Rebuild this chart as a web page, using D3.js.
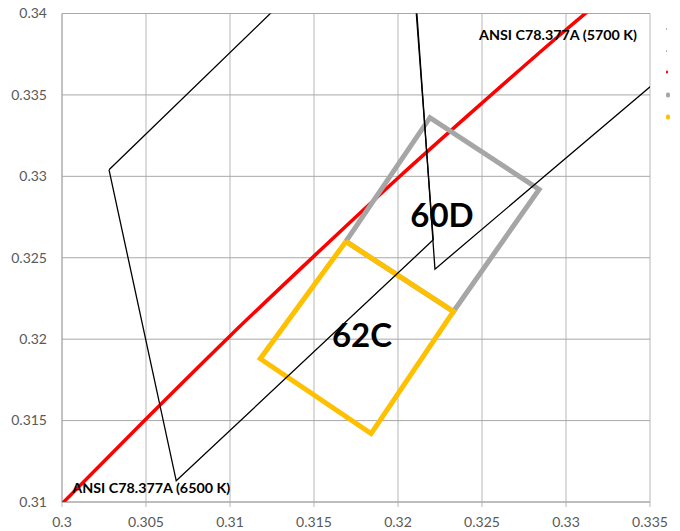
<!DOCTYPE html>
<html>
<head>
<meta charset="utf-8">
<script src="https://cdn.jsdelivr.net/npm/d3@7"></script>
<style>
  html, body { margin: 0; padding: 0; background: #ffffff; }
  svg { display: block; }
</style>
</head>
<body>
<svg id="chart" width="680" height="531"></svg>
<script>
// Axis ticks (CIE 1931 x, y)
const xTicks = [0.3, 0.305, 0.31, 0.315, 0.32, 0.325, 0.33, 0.335];
const yTicks = [0.31, 0.315, 0.32, 0.325, 0.33, 0.335, 0.34];

// ANSI C78.377A quadrangles (x, y corners)
const quad6500 = [[0.3028, 0.3304], [0.3068, 0.3113], [0.3221, 0.3261], [0.3205, 0.3481]];
const quad5700 = [[0.3207, 0.3462], [0.3222, 0.3243], [0.3366, 0.3369], [0.3376, 0.3616]];

// Blackbody locus
const locusX = [0.300, 0.305, 0.310, 0.315, 0.320, 0.325, 0.330, 0.335];
const locusY = [0.3099, 0.3151, 0.3202, 0.3251, 0.3299, 0.3345, 0.3390, 0.3433];

// Bins 60D and 62C
const bin60D = [[0.3169, 0.3260], [0.3219, 0.3336], [0.3284, 0.3292], [0.3233, 0.3217]];
const bin62C = [[0.3169, 0.3260], [0.3233, 0.3217], [0.3184, 0.3142], [0.3118, 0.3188]];

const binLabels = [
  { text: "60D", x: 0.32262, y: 0.32763 },
  { text: "62C", x: 0.31786, y: 0.32026 }
];

const seriesColors = ["#000000", "#000000", "#ff0000", "#a6a6a6", "#ffc000"];

const svg = d3.select("#chart");
const plotLeft = 62, plotRight = 650, plotTop = 13.5, plotBottom = 502;

const x = d3.scaleLinear().domain([0.3, 0.335]).range([plotLeft, plotRight]);
const y = d3.scaleLinear().domain([0.31, 0.34]).range([plotBottom, plotTop]);

const font = "Lato, 'Open Sans', sans-serif";
const fmt = d => String(+d.toFixed(3));

// gridlines
svg.append("g").selectAll("line").data(xTicks).join("line")
  .attr("x1", d => x(d)).attr("x2", d => x(d))
  .attr("y1", plotTop).attr("y2", plotBottom + 5)
  .attr("stroke", "#cfcfcf").attr("stroke-width", 1.5);
svg.append("g").selectAll("line").data(yTicks).join("line")
  .attr("x1", plotLeft).attr("x2", plotRight)
  .attr("y1", d => y(d)).attr("y2", d => y(d))
  .attr("stroke", "#a8a8a8").attr("stroke-width", 1);

// axis lines
svg.append("line").attr("x1", plotLeft).attr("x2", plotLeft).attr("y1", plotTop).attr("y2", plotBottom)
  .attr("stroke", "#a8a8a8").attr("stroke-width", 1);
svg.append("line").attr("x1", plotLeft).attr("x2", plotRight).attr("y1", plotBottom).attr("y2", plotBottom)
  .attr("stroke", "#a8a8a8").attr("stroke-width", 1);

// tick labels
svg.append("g").selectAll("text").data(yTicks).join("text")
  .attr("x", 47).attr("y", d => y(d)).attr("dy", "0.35em")
  .attr("text-anchor", "end")
  .attr("font-family", font).attr("font-size", 14).attr("fill", "#595959")
  .text(fmt);
svg.append("g").selectAll("text").data(xTicks).join("text")
  .attr("x", d => x(d)).attr("y", 522).attr("dy", "0.35em")
  .attr("text-anchor", "middle")
  .attr("font-family", font).attr("font-size", 14).attr("fill", "#595959")
  .text(fmt);

// plot clip
svg.append("clipPath").attr("id", "plotClip")
  .append("rect").attr("x", plotLeft).attr("y", plotTop)
  .attr("width", plotRight - plotLeft).attr("height", plotBottom - plotTop);

const plot = svg.append("g").attr("clip-path", "url(#plotClip)");

const line = d3.line().x(d => x(d[0])).y(d => y(d[1]));
const closed = pts => pts.concat([pts[0]]);

// blackbody locus
const locus = locusX.map((v, i) => [v, locusY[i]]);
plot.append("path")
  .attr("d", d3.line().x(d => x(d[0])).y(d => y(d[1])).curve(d3.curveMonotoneX)(locus))
  .attr("fill", "none").attr("stroke", seriesColors[2]).attr("stroke-width", 3.5);

// bins
plot.append("path").attr("d", line(closed(bin60D)))
  .attr("fill", "none").attr("stroke", seriesColors[3]).attr("stroke-width", 5)
  .attr("stroke-linejoin", "miter");
plot.append("path").attr("d", line(closed(bin62C)))
  .attr("fill", "none").attr("stroke", seriesColors[4]).attr("stroke-width", 5)
  .attr("stroke-linejoin", "miter");

// ANSI quadrangles
[quad6500, quad5700].forEach((q, i) => {
  plot.append("path").attr("d", line(closed(q)))
    .attr("fill", "none").attr("stroke", seriesColors[i]).attr("stroke-width", 1.3);
});

// bin labels
svg.append("g").selectAll("text").data(binLabels).join("text")
  .attr("x", d => x(d.x)).attr("y", d => y(d.y)).attr("dy", "0.36em")
  .attr("text-anchor", "middle")
  .attr("font-family", font).attr("font-weight", "bold").attr("font-size", 33)
  .attr("fill", "#000")
  .text(d => d.text);

// quadrangle labels
svg.append("text")
  .attr("x", x(quad6500[1][0]) - 25).attr("y", y(quad6500[1][1]) + 12)
  .attr("text-anchor", "middle")
  .attr("font-family", font).attr("font-weight", "bold").attr("font-size", 13)
  .attr("textLength", 158).attr("lengthAdjust", "spacingAndGlyphs")
  .text("ANSI C78.377A (6500 K)");
svg.append("text")
  .attr("x", 637).attr("y", 40)
  .attr("text-anchor", "end")
  .attr("font-family", font).attr("font-weight", "bold").attr("font-size", 13)
  .attr("textLength", 158).attr("lengthAdjust", "spacingAndGlyphs")
  .text("ANSI C78.377A (5700 K)");

// legend keys (cut at the right edge)
const legendY = [29, 51, 72, 95, 117];
const legendSize = [1, 1, 3, 5, 5];
const legendFill = ["#555", "#555", "#ff0000", "#a6a6a6", "#ffc000"];
svg.append("g").selectAll("rect").data(legendY).join("rect")
  .attr("x", 666).attr("y", (d, i) => d - legendSize[i] / 2)
  .attr("width", (d, i) => Math.max(1, legendSize[i] - 1)).attr("height", (d, i) => legendSize[i])
  .attr("rx", (d, i) => legendSize[i] / 3)
  .attr("fill", (d, i) => legendFill[i]);
</script>
</body>
</html>
